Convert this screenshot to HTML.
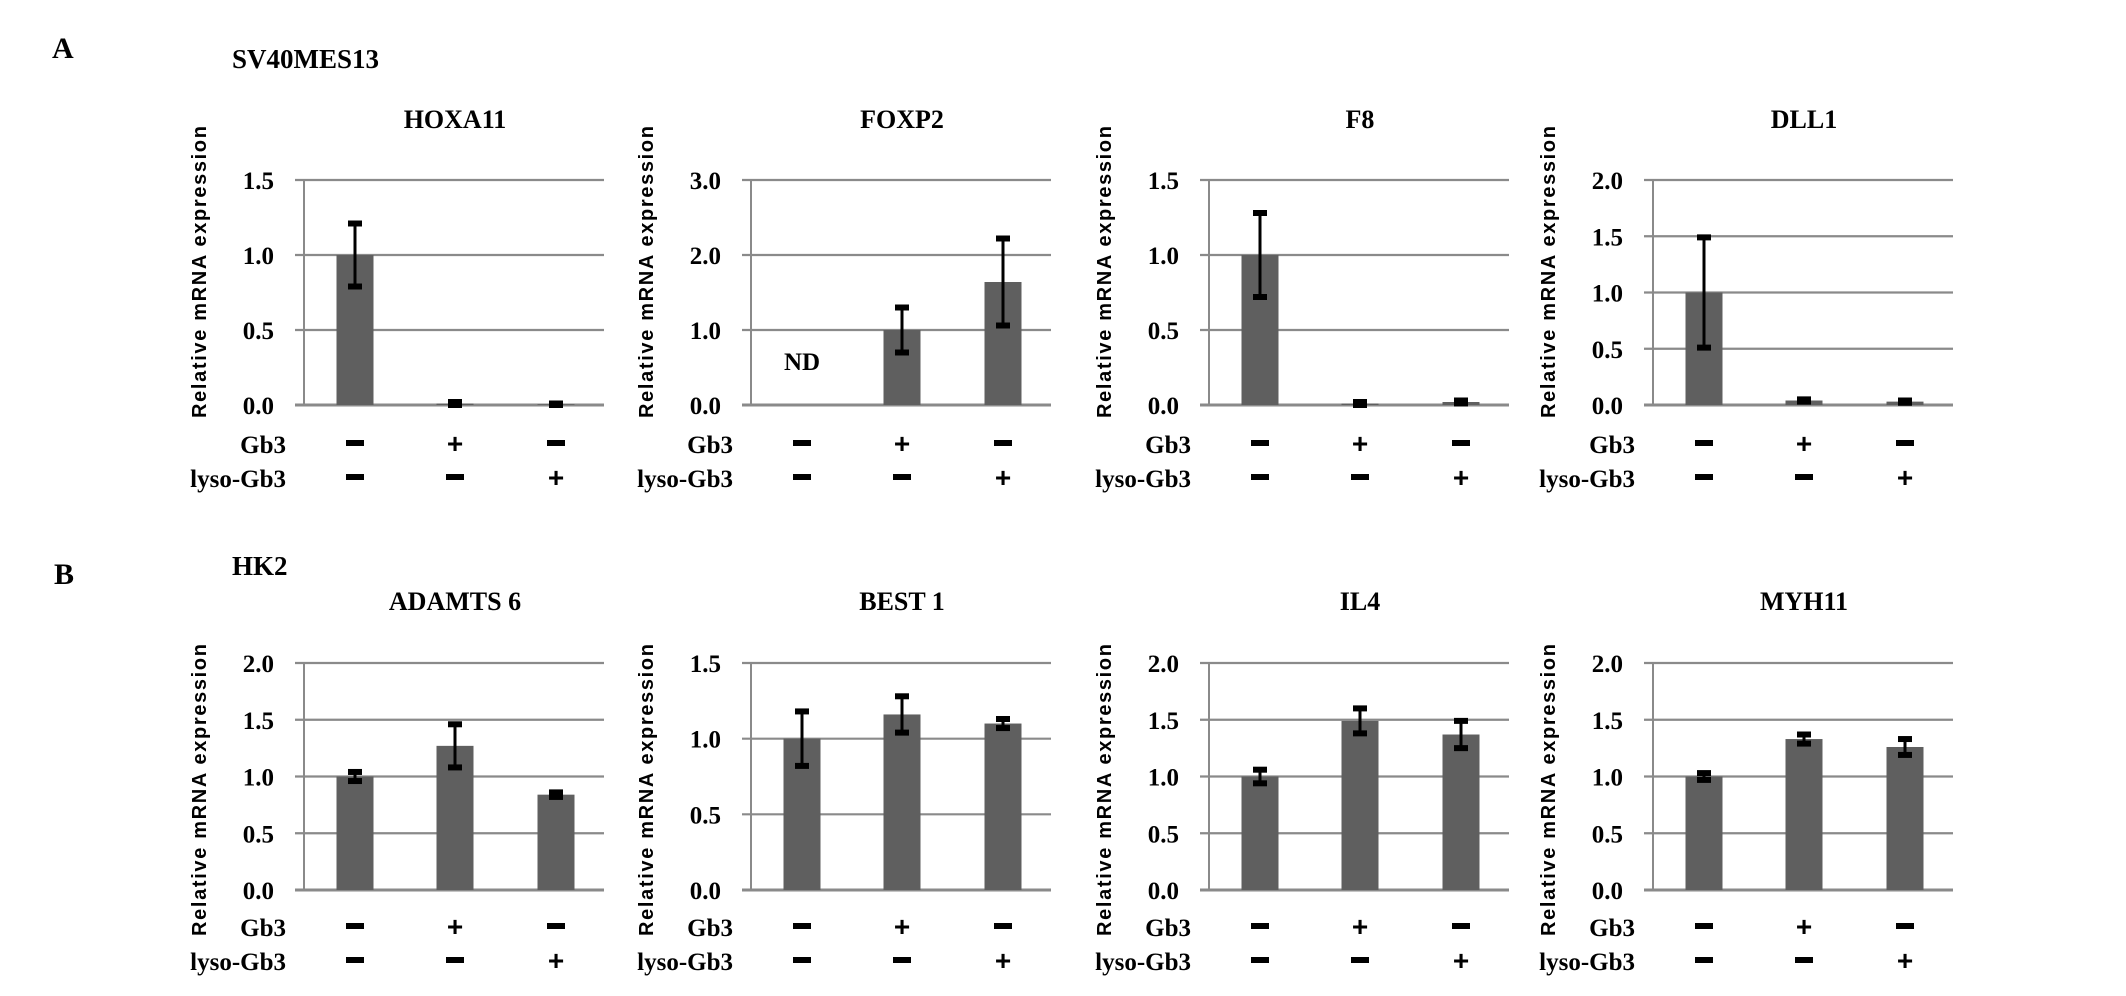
<!DOCTYPE html>
<html><head><meta charset="utf-8"><title>Relative mRNA expression charts</title>
<style>
html,body{margin:0;padding:0;background:#fff;}
svg{display:block;}
</style></head>
<body>
<svg id="fig" width="2126" height="996" viewBox="0 0 2126 996" xmlns="http://www.w3.org/2000/svg">
<text x="52" y="58" font-family="Liberation Serif, serif" font-weight="bold" font-size="30">A</text>
<text x="232" y="68" font-family="Liberation Serif, serif" font-weight="bold" font-size="27">SV40MES13</text>
<text x="54" y="584" font-family="Liberation Serif, serif" font-weight="bold" font-size="30">B</text>
<text x="232" y="575" font-family="Liberation Serif, serif" font-weight="bold" font-size="27">HK2</text>
</svg>
<script>
// chart data
const titles = ["HOXA11","FOXP2","F8","DLL1","ADAMTS 6","BEST 1","IL4","MYH11"];
const yMax = [1.5,3.0,1.5,2.0,2.0,1.5,2.0,2.0];
const yStep = [0.5,1.0,0.5,0.5,0.5,0.5,0.5,0.5];
const means = [
  [1.0,0.01,0.005],
  [null,1.0,1.64],
  [1.0,0.01,0.02],
  [1.0,0.04,0.03],
  [1.0,1.27,0.84],
  [1.0,1.16,1.10],
  [1.0,1.49,1.37],
  [1.0,1.33,1.26]
];
const errs = [
  [0.21,0.01,0.005],
  [0,0.3,0.58],
  [0.28,0.01,0.01],
  [0.49,0.01,0.01],
  [0.04,0.19,0.02],
  [0.18,0.12,0.03],
  [0.06,0.11,0.12],
  [0.03,0.04,0.07]
];
const gb3 = ["-","+","-"];
const lyso = ["-","-","+"];

const NS="http://www.w3.org/2000/svg";
const svg=document.getElementById('fig');
function mk(tag,attrs,parent){const e=document.createElementNS(NS,tag);for(const k in attrs)e.setAttribute(k,attrs[k]);(parent||svg).appendChild(e);return e;}

const colX=[304,751,1209,1653];
const rows=[{top:180,zero:405,title:128,gb:443,ly:477,ylab:272},{top:663,zero:890,title:610,gb:926,ly:960,ylab:790}];
const width=300;
const barOff=[51,151,252];
const barW=37;

titles.forEach((t,i)=>{
  const r=rows[Math.floor(i/4)], ax=colX[i%4], right=ax+width;
  const g=mk('g',{});
  
  
  const ys=v=>r.zero-(v/yMax[i])*(r.zero-r.top);
  const tt=mk('text',{x:ax+151,y:r.title,'text-anchor':'middle','font-family':'Liberation Serif, serif','font-weight':'bold','font-size':'26'},g);
  tt.textContent=t;
  
  
  const yl=mk('text',{transform:`translate(${ax-98},${r.ylab}) rotate(-90)`,'text-anchor':'middle','font-family':'Liberation Sans, sans-serif','font-weight':'bold','font-size':'20',textLength:'292',lengthAdjust:'spacing'},g);
  yl.textContent='Relative mRNA expression';
  
  
  const n=Math.round(yMax[i]/yStep[i]);
  for(let k=0;k<=n;k++){
    const v=k*yStep[i], y=ys(v);
    const gl=mk('line',{x1:ax-9,x2:right,y1:y,y2:y,stroke:'#8a8a8a','stroke-width':k===0?3:2.2},g);
    
    
    const tl=mk('text',{x:ax-30,y:y+9,'text-anchor':'end','font-family':'Liberation Serif, serif','font-weight':'bold','font-size':'25'},g);
    tl.textContent=v.toFixed(1);
    
    
  }
  const axl=mk('line',{x1:ax,x2:ax,y1:r.top,y2:r.zero,stroke:'#8a8a8a','stroke-width':2},g);
  
  
  means[i].forEach((m,j)=>{
    const cx=ax+barOff[j];
    if(m===null){
      const nd=mk('text',{x:cx,y:ys(0.47),'text-anchor':'middle','font-family':'Liberation Serif, serif','font-weight':'bold','font-size':'25'},g);
      nd.textContent='ND';
      
      
    } else {
      const b=mk('rect',{x:cx-barW/2,y:ys(m),width:barW,height:r.zero-ys(m),fill:'#5f5f5f'},g);
      
      
      const e=errs[i][j], yt=ys(m+e), yb=ys(Math.max(0,m-e));
      const el=mk('line',{x1:cx,x2:cx,y1:yt,y2:yb,stroke:'#000','stroke-width':3},g);
      
      
      [yt,yb].forEach(yy=>{
        const c=mk('rect',{x:cx-7,y:yy-3,width:14,height:6,fill:'#000'},g);
        
        
      });
    }
    [[gb3[j],r.gb],[lyso[j],r.ly]].forEach(([s,yy])=>{
      if(s==='-'){
        const d=mk('rect',{x:cx-9,y:yy-3,width:18,height:6,fill:'#000'},g);
        
        
      } else {
        const p=mk('text',{x:cx,y:yy+10,'text-anchor':'middle','font-family':'Liberation Sans, sans-serif','font-weight':'bold','font-size':'28'},g);
        p.textContent='+';
        
        
      }
    });
  });
  const l1=mk('text',{x:ax-18,y:r.gb+10,'text-anchor':'end','font-family':'Liberation Serif, serif','font-weight':'bold','font-size':'25'},g);
  l1.textContent='Gb3';
  
  
  const l2=mk('text',{x:ax-18,y:r.ly+10,'text-anchor':'end','font-family':'Liberation Serif, serif','font-weight':'bold','font-size':'25'},g);
  l2.textContent='lyso-Gb3';
  
  
});
</script>
</body></html>
